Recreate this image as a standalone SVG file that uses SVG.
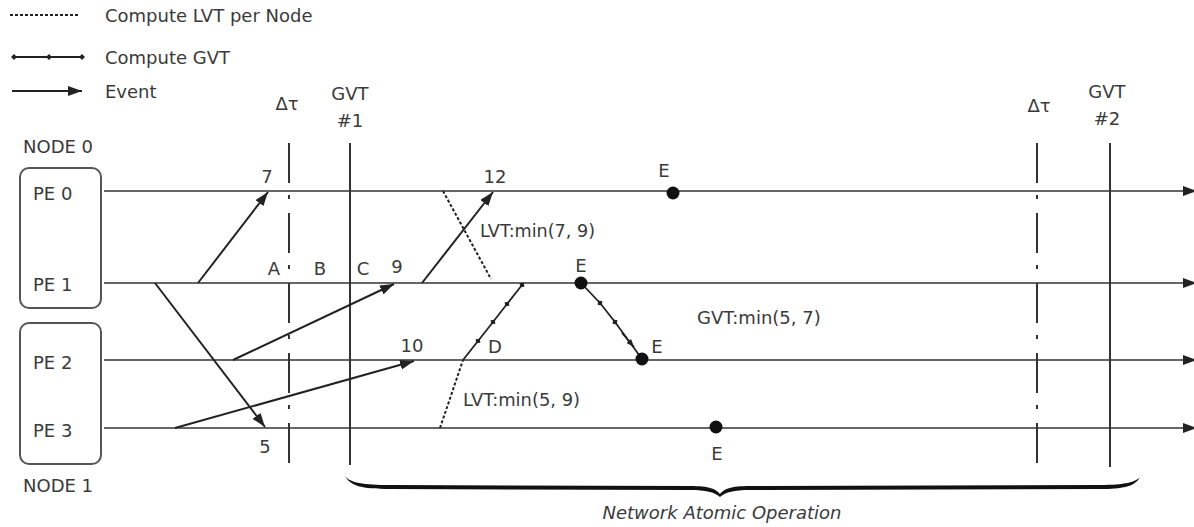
<svg xmlns="http://www.w3.org/2000/svg" width="1194" height="527" viewBox="0 0 1194 527">
<defs>
<marker id="ah" markerWidth="14" markerHeight="10" refX="14" refY="5" orient="auto" markerUnits="userSpaceOnUse"><path d="M0,0 L14,5 L0,10 z" fill="#222"/></marker>
<marker id="ahs" markerWidth="8" markerHeight="6" refX="8" refY="3" orient="auto" markerUnits="userSpaceOnUse"><path d="M0,0 L8,3 L0,6 z" fill="#222"/></marker>
<marker id="dm" markerWidth="6" markerHeight="6" refX="3" refY="3" orient="auto" markerUnits="userSpaceOnUse"><path d="M0,3 L3,0 L6,3 L3,6 z" fill="#222"/></marker>
</defs>
<style>
.t{font-family:"DejaVu Sans","Liberation Sans",Arial,sans-serif;fill:#3a3a3a;font-size:18px}
.c{text-anchor:middle}
.tl{stroke:#333;stroke-width:1.6;fill:none}
.ev{stroke:#222;stroke-width:2;fill:none}
.vl{stroke:#333;stroke-width:2;fill:none}
.dt{stroke:#333;stroke-width:2;stroke-dasharray:40 12 4 14;fill:none}
.lvt{stroke:#222;stroke-width:2;stroke-dasharray:3 2;fill:none}
.gvt{stroke:#222;stroke-width:1.8;fill:none}
.box{fill:#fff;stroke:#555;stroke-width:2}
</style>
<rect width="1194" height="527" fill="#fff"/>

<g id="legend">
<line x1="10" y1="15" x2="80" y2="15" class="lvt" stroke-width="1.5"/>
<text x="105" y="22" class="t" font-size="19">Compute LVT per Node</text>
<polyline points="14,57 49,57 82,57" class="gvt" stroke-width="1.2" marker-start="url(#dm)" marker-mid="url(#dm)" marker-end="url(#dm)"/>
<text x="105" y="64" class="t" font-size="19">Compute GVT</text>
<line x1="12" y1="91" x2="82" y2="91" class="ev" marker-end="url(#ah)"/>
<text x="105" y="98" class="t" font-size="19">Event</text>
</g>

<g id="node0">
<text x="23" y="153" class="t" font-size="20">NODE 0</text>
<rect x="20" y="168" width="81" height="140" rx="9" class="box"/>
<text x="33" y="200" class="t" font-size="20">PE 0</text>
<text x="33" y="291" class="t" font-size="20">PE 1</text>
</g>
<g id="node1">
<rect x="20" y="323" width="81" height="141" rx="9" class="box"/>
<text x="33" y="369" class="t" font-size="20">PE 2</text>
<text x="33" y="437" class="t" font-size="20">PE 3</text>
<text x="23" y="492" class="t" font-size="20">NODE 1</text>
</g>

<g id="markers">
<text x="287" y="110" class="t c" font-size="20">Δτ</text>
<line x1="289" y1="143" x2="289" y2="465" class="dt"/>
<text x="350" y="100" class="t c">GVT</text>
<text x="350" y="127" class="t c">#1</text>
<line x1="350" y1="143" x2="350" y2="465" class="vl"/>
<text x="1039" y="112" class="t c" font-size="20">Δτ</text>
<line x1="1037" y1="143" x2="1037" y2="467" class="dt"/>
<text x="1107" y="98" class="t c">GVT</text>
<text x="1107" y="125" class="t c">#2</text>
<line x1="1110" y1="143" x2="1110" y2="467" class="vl"/>
</g>

<g id="connectors">
<line x1="104" y1="191" x2="1197" y2="191" class="tl" marker-end="url(#ah)"/>
<line x1="104" y1="283" x2="1197" y2="283" class="tl" marker-end="url(#ah)"/>
<line x1="104" y1="360" x2="1197" y2="360" class="tl" marker-end="url(#ah)"/>
<line x1="104" y1="428" x2="1197" y2="428" class="tl" marker-end="url(#ah)"/>

<line x1="198" y1="283" x2="268" y2="192" class="ev" marker-end="url(#ah)"/>
<line x1="155" y1="283" x2="265" y2="427" class="ev" marker-end="url(#ah)"/>
<line x1="233" y1="360" x2="394" y2="284" class="ev" marker-end="url(#ah)"/>
<line x1="175" y1="428" x2="414" y2="361" class="ev" marker-end="url(#ah)"/>
<line x1="422" y1="283" x2="493" y2="192" class="ev" marker-end="url(#ah)"/>

<line x1="443" y1="191" x2="491" y2="279" class="lvt"/>
<line x1="440" y1="428" x2="463" y2="360" class="lvt"/>
<polyline points="463,360 478,341 493,322 507,304 522,285" class="gvt" marker-mid="url(#dm)" marker-end="url(#dm)"/>
<polyline points="581,283 600,303 615,322 642,359" class="gvt" marker-mid="url(#dm)"/>
<line x1="622" y1="333" x2="634" y2="347" class="gvt" marker-end="url(#ahs)"/>

<path d="M345,475 C348,483 365,485 390,485 L690,486 C710,486 716,489 720,494 C724,489 730,486 750,486 L1100,485 C1125,485 1136,482 1140,477 C1135,487 1122,489 1100,489 L750,490 C734,490 726,492 720,497 C714,492 706,490 690,490 L390,489 C362,489 349,486 345,475 Z" fill="#111"/>
</g>

<g id="events">
<circle cx="673" cy="193" r="6.5" fill="#111"/>
<circle cx="581" cy="283" r="6.5" fill="#111"/>
<circle cx="642" cy="359" r="6.5" fill="#111"/>
<circle cx="716" cy="427" r="6.5" fill="#111"/>
</g>

<g id="labels">
<text x="267" y="183" class="t c">7</text>
<text x="495" y="183" class="t c">12</text>
<text x="397" y="273" class="t c">9</text>
<text x="412" y="352" class="t c">10</text>
<text x="265" y="453" class="t c">5</text>
<text x="274" y="275" class="t c">A</text>
<text x="320" y="275" class="t c">B</text>
<text x="363" y="275" class="t c">C</text>
<text x="495" y="353" class="t c">D</text>
<text x="664" y="177" class="t c">E</text>
<text x="581" y="272" class="t c">E</text>
<text x="657" y="353" class="t c">E</text>
<text x="717" y="460" class="t c">E</text>
<text x="480" y="237" class="t" font-size="15" textLength="115" lengthAdjust="spacingAndGlyphs">LVT:min(7, 9)</text>
<text x="463" y="406" class="t" font-size="15" textLength="117" lengthAdjust="spacingAndGlyphs">LVT:min(5, 9)</text>
<text x="697" y="324" class="t" font-size="22">GVT:min(5, 7)</text>
<text x="722" y="519" class="t c" font-size="17" font-style="italic">Network Atomic Operation</text>
</g>
</svg>
